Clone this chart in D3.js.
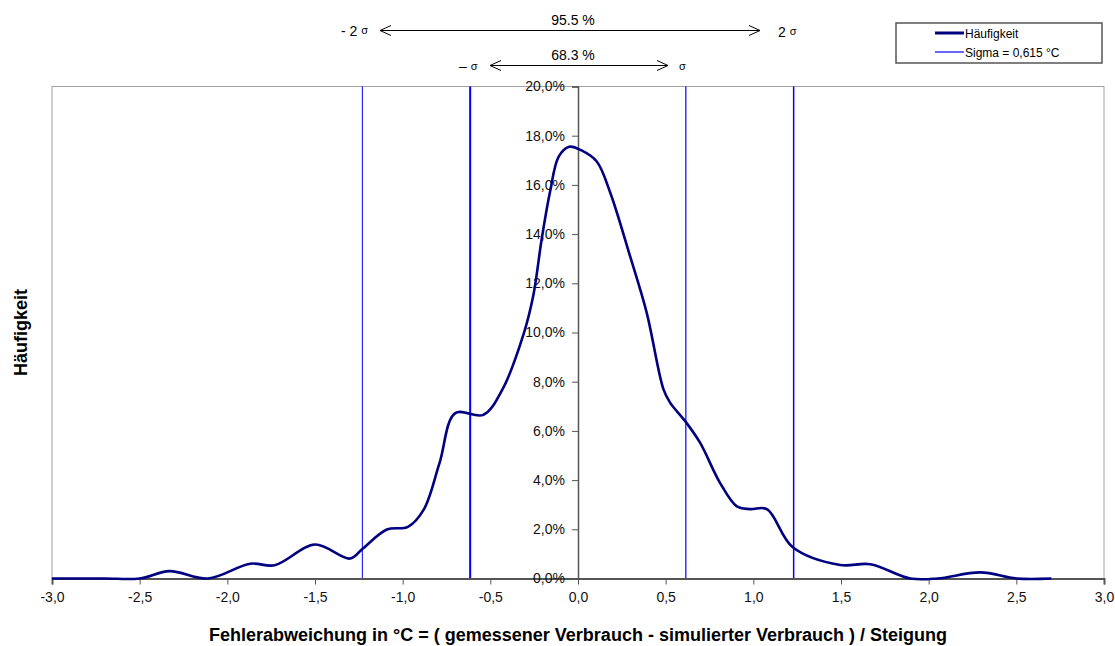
<!DOCTYPE html>
<html>
<head>
<meta charset="utf-8">
<script src="https://cdn.jsdelivr.net/npm/d3@7"></script>
<style>
  html, body { margin: 0; padding: 0; background: #fff; }
  svg { display: block; font-family: "Liberation Sans", Arial, sans-serif; }
</style>
</head>
<body>
<svg id="chart" width="1115" height="646"></svg>
<script>
// ---- data ----
const xValues = [-3.0, -2.7, -2.5, -2.33, -2.11, -1.87, -1.73, -1.5, -1.3, -1.23, -1.09, -0.97, -0.88, -0.79, -0.70, -0.54, -0.43, -0.31, -0.255, -0.207, -0.16, -0.11, -0.05, 0.02, 0.107, 0.183, 0.297, 0.392, 0.487, 0.525, 0.611, 0.696, 0.81, 0.906, 0.982, 1.077, 1.225, 1.495, 1.667, 1.895, 2.05, 2.295, 2.5, 2.7];
const frequency = [0, 0, 0, 0.003, 0, 0.006, 0.0054, 0.0138, 0.0081, 0.012, 0.0199, 0.021, 0.028, 0.0469, 0.0672, 0.0665, 0.077, 0.0994, 0.115, 0.138, 0.157, 0.1715, 0.1755, 0.174, 0.1695, 0.157, 0.131, 0.108, 0.077, 0.0715, 0.064, 0.0552, 0.0389, 0.0293, 0.0282, 0.0282, 0.0127, 0.0055, 0.0058, 0, 0, 0.0025, 0, 0];
const sigmaValue = 0.615;
const sigmaLines = [-2 * sigmaValue, -sigmaValue, sigmaValue, 2 * sigmaValue];
const xTicks = [-3.0, -2.5, -2.0, -1.5, -1.0, -0.5, 0.0, 0.5, 1.0, 1.5, 2.0, 2.5, 3.0];
const yTicks = [0, 0.02, 0.04, 0.06, 0.08, 0.10, 0.12, 0.14, 0.16, 0.18, 0.20];
const legendLabels = ["Häufigkeit", "Sigma = 0,615 °C"];
const xTitle = "Fehlerabweichung in °C = ( gemessener Verbrauch - simulierter Verbrauch ) / Steigung";
const yTitle = "Häufigkeit";

// ---- layout ----
const svg = d3.select("#chart");
const plot = { left: 52, right: 1104, top: 86.5, bottom: 578.5 };
const x = d3.scaleLinear().domain([-3, 3]).range([plot.left, plot.right]);
const y = d3.scaleLinear().domain([0, 0.20]).range([plot.bottom, plot.top]);

const de = d3.formatLocale({ decimal: ",", thousands: ".", grouping: [3], currency: ["", " €"], minus: "-" });
const fmtX = de.format(".1f");
const fmtY = de.format(".1%");

// plot area border
svg.append("rect")
  .attr("x", plot.left).attr("y", plot.top)
  .attr("width", plot.right - plot.left).attr("height", plot.bottom - plot.top)
  .attr("fill", "none").attr("stroke", "#a0a0a0").attr("stroke-width", 1);

// sigma lines
const sigmaWidths = [1, 2, 1.2, 1.5];
svg.append("g").selectAll("line").data(sigmaLines).join("line")
  .attr("x1", d => x(d)).attr("x2", d => x(d))
  .attr("y1", plot.top).attr("y2", plot.bottom)
  .attr("stroke", "#0000ff")
  .attr("stroke-width", (d, i) => sigmaWidths[i]);

// x axis
const xAxis = svg.append("g")
  .attr("transform", `translate(0,${y(0)})`)
  .call(d3.axisBottom(x).tickValues(xTicks).tickFormat(fmtX).tickSize(6).tickPadding(8));
xAxis.select(".domain").attr("stroke", "#555").attr("stroke-width", 2);
xAxis.selectAll(".tick line").attr("stroke", "#555");
xAxis.selectAll("text").attr("font-size", 14).attr("fill", "#111").attr("font-family", "Liberation Sans, Arial, sans-serif");

// y axis at x = 0
const yAxis = svg.append("g")
  .attr("transform", `translate(${x(0)},0)`)
  .call(d3.axisLeft(y).tickValues(yTicks).tickFormat(fmtY).tickSize(6).tickPadding(7));
yAxis.select(".domain").attr("stroke", "#555").attr("stroke-width", 1.5);
yAxis.selectAll(".tick line").attr("stroke", "#555");
yAxis.selectAll("text").attr("font-size", 14).attr("fill", "#111").attr("font-family", "Liberation Sans, Arial, sans-serif");

// curve
const pts = xValues.map((v, i) => [v, frequency[i]]);
const line = d3.line().x(d => x(d[0])).y(d => y(d[1])).curve(d3.curveCatmullRom.alpha(0.5));
svg.append("path").datum(pts)
  .attr("d", line)
  .attr("fill", "none").attr("stroke", "#000080").attr("stroke-width", 2.6)
  .attr("stroke-linejoin", "round");

// axis titles
svg.append("text")
  .attr("x", x(0)).attr("y", 641)
  .attr("text-anchor", "middle").attr("font-size", 18).attr("font-weight", "bold")
  .text(xTitle);
svg.append("text")
  .attr("transform", `translate(27,${(plot.top + plot.bottom) / 2}) rotate(-90)`)
  .attr("text-anchor", "middle").attr("font-size", 18).attr("font-weight", "bold")
  .text(yTitle);

// legend
const lg = svg.append("g");
lg.append("rect").attr("x", 896).attr("y", 23).attr("width", 206).attr("height", 40)
  .attr("fill", "#fff").attr("stroke", "#555").attr("stroke-width", 1.5);
const lgStyles = [{ c: "#000080", w: 3 }, { c: "#0000ff", w: 1.2 }];
legendLabels.forEach((t, i) => {
  const yy = 33 + i * 19;
  lg.append("line").attr("x1", 935).attr("x2", 964).attr("y1", yy).attr("y2", yy)
    .attr("stroke", lgStyles[i].c).attr("stroke-width", lgStyles[i].w);
  lg.append("text").attr("x", 965).attr("y", yy + 4.5).attr("font-size", 12).text(t);
});

// sigma annotations (top)
const ann = svg.append("g");
function arrow(x1, x2, yy) {
  ann.append("line").attr("x1", x1).attr("x2", x2).attr("y1", yy).attr("y2", yy)
    .attr("stroke", "#000").attr("stroke-width", 1);
  ann.append("path").attr("d", `M${x1 + 11},${yy - 5}L${x1},${yy}L${x1 + 11},${yy + 5}`)
    .attr("fill", "none").attr("stroke", "#000").attr("stroke-width", 1);
  ann.append("path").attr("d", `M${x2 - 11},${yy - 5}L${x2},${yy}L${x2 - 11},${yy + 5}`)
    .attr("fill", "none").attr("stroke", "#000").attr("stroke-width", 1);
}
arrow(380, 760, 30.5);
arrow(490, 668, 65.5);
ann.append("text").attr("x", 573).attr("y", 25).attr("text-anchor", "middle").attr("font-size", 14).text("95.5 %");
ann.append("text").attr("x", 573).attr("y", 60).attr("text-anchor", "middle").attr("font-size", 14).text("68.3 %");

function sigmaLabel(xx, yy, prefix) {
  const t = ann.append("text").attr("x", xx).attr("y", yy).attr("font-size", 14);
  t.append("tspan").text(prefix);
  t.append("tspan").attr("font-size", 11).attr("dy", -1.5).text("σ");
}
sigmaLabel(341, 35.5, "- 2 ");
sigmaLabel(778, 36.5, "2 ");
sigmaLabel(459, 71, "– ");
sigmaLabel(679, 71, "");
</script>
</body>
</html>
